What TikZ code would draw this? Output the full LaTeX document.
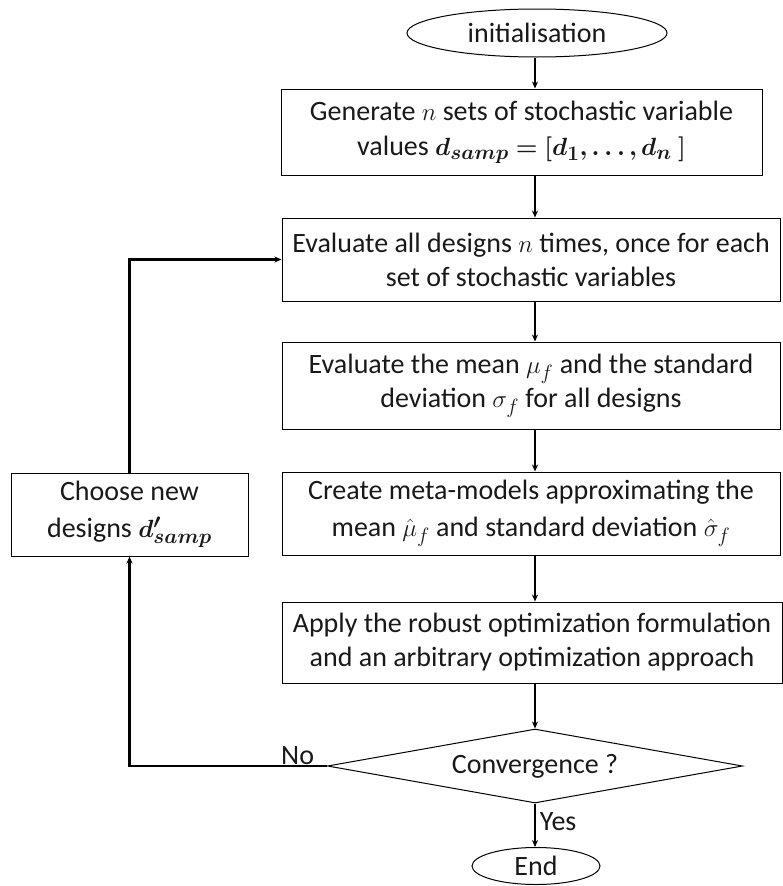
\documentclass[tikz,border=0pt]{standalone}
\usepackage{fontspec}
\setmainfont{Carlito}
\usepackage{amsmath,bm}
\usetikzlibrary{shapes.geometric,arrows.meta,calc}
\begin{document}
\begin{tikzpicture}[x=1pt,y=-1pt,
  txt/.style={font=\fontsize{28}{34}\selectfont, text=black!90},
  box/.style={txt, draw, line width=1pt, rectangle, align=center, inner sep=0pt},
  oval/.style={txt, draw, line width=1pt, ellipse, inner sep=0pt},
  dia/.style={txt, draw, line width=1pt, diamond, inner sep=0pt},
  arr/.style={line width=1.8pt, -{Stealth[length=7pt,width=6pt]}},
  loopline/.style={line width=2.2pt},
  lbl/.style={txt, inner sep=0pt}
]
\useasboundingbox (0,0) rectangle (782,886);

\node[oval, minimum width=260, minimum height=48] (init) at (537,33) {initialisation};
\node[box, minimum width=481, minimum height=86] (gen) at (521.5,132)
  {Generate $n$ sets of stochastic variable\\[1pt] values $\bm{d_{samp} = [d_1, \ldots, d_n\ ]}$};
\node[box, minimum width=498, minimum height=83] (eval) at (531,259.5)
  {Evaluate all designs $n$ times, once for each\\ set of stochastic variables};
\node[box, minimum width=498, minimum height=87] (mean) at (531,385.5)
  {Evaluate the mean $\mu_f$ and the standard\\ deviation $\sigma_f$ for all designs};
\node[box, minimum width=498, minimum height=83] (meta) at (531,513.5)
  {Create meta-models approximating the\\[3pt] mean $\hat{\mu}_f$ and standard deviation $\hat{\sigma}_f$};
\node[box, minimum width=500, minimum height=81] (apply) at (532,642.5)
  {Apply the robust optimization formulation\\ and an arbitrary optimization approach};
\node[dia, minimum width=415, minimum height=74, aspect=5.6] (conv) at (535,766) {Convergence ?};
\node[oval, minimum width=128, minimum height=37] (end) at (536,866) {End};
\node[box, minimum width=237, minimum height=83] (choose) at (129.5,514.5)
  {Choose new\\[3pt] designs $\bm{d'_{samp}}$};

\coordinate (ax) at (535,0);
\draw[arr] (init.south -| ax) -- (gen.north -| ax);
\draw[arr] (gen.south -| ax) -- (eval.north -| ax);
\draw[arr] (eval.south -| ax) -- (mean.north -| ax);
\draw[arr] (mean.south -| ax) -- (meta.north -| ax);
\draw[arr] (meta.south -| ax) -- (apply.north -| ax);
\draw[arr] (apply.south -| ax) -- (conv.north);
\draw[arr] (conv.south) -- (end.north -| conv.south)
  node[lbl, pos=0.42, right=4pt] {Yes};
\draw[loopline, -{Stealth[length=7pt,width=6pt]}] (conv.west) -- (choose.south |- conv.west) -- (choose.south);
\node[lbl, anchor=south west] (no) at ($(conv.west)+(-46,-1)$) {No};
\draw[loopline, -{Stealth[length=7pt,width=6pt]}] (choose.north) -- (choose.north |- eval.west) -- (eval.west);
\end{tikzpicture}
\end{document}
